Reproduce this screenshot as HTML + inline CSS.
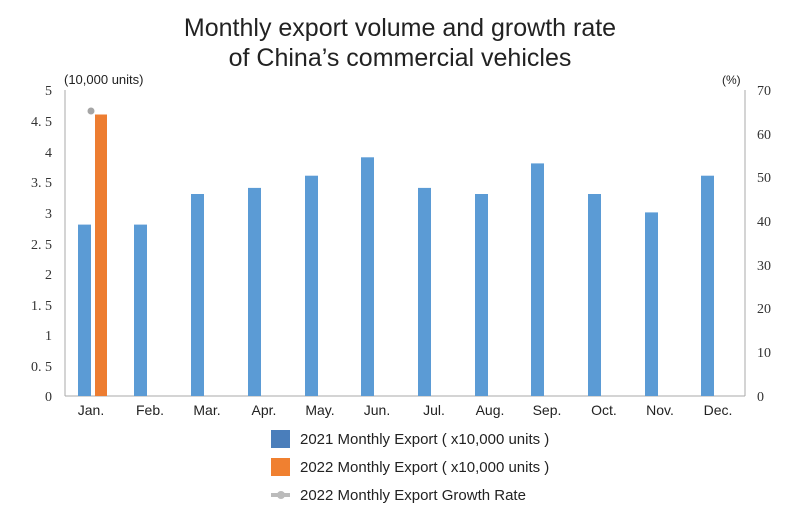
<!DOCTYPE html>
<html><head><meta charset="utf-8"><style>
body{margin:0;background:#fff;width:800px;height:519px;overflow:hidden}
svg{display:block}
.t{font-family:"Liberation Serif",serif;font-size:14px;fill:#333}
.s{font-family:"Liberation Sans",sans-serif;fill:#222}
</style></head><body>
<svg width="800" height="519" xmlns="http://www.w3.org/2000/svg">
<text x="400" y="36" text-anchor="middle" class="s" font-size="25">Monthly export volume and growth rate</text>
<text x="400" y="66" text-anchor="middle" class="s" font-size="25">of China’s commercial vehicles</text>
<text x="64" y="84" class="s" font-size="13">(10,000 units)</text>
<text x="722" y="84" class="s" font-size="12">(%)</text>
<line x1="65" y1="90" x2="65" y2="396" stroke="#aaa"/>
<line x1="745" y1="90" x2="745" y2="396" stroke="#aaa"/>
<line x1="65" y1="396" x2="745" y2="396" stroke="#aaa"/>
<g class="t" text-anchor="end">
<text x="52" y="95">5</text><text x="52" y="126">4. 5</text><text x="52" y="157">4</text><text x="52" y="187">3. 5</text><text x="52" y="218">3</text><text x="52" y="249">2. 5</text><text x="52" y="279">2</text><text x="52" y="310">1. 5</text><text x="52" y="340">1</text><text x="52" y="371">0. 5</text><text x="52" y="401">0</text>
</g>
<g class="t" text-anchor="start">
<text x="757" y="95">70</text><text x="757" y="139">60</text><text x="757" y="182">50</text><text x="757" y="226">40</text><text x="757" y="270">30</text><text x="757" y="313">20</text><text x="757" y="357">10</text><text x="757" y="401">0</text>
</g>
<g fill="#5b9bd5">
<rect x="78" y="224.6" width="13" height="171.4"/>
<rect x="134" y="224.6" width="13" height="171.4"/>
<rect x="191" y="194" width="13" height="202"/>
<rect x="248" y="187.9" width="13" height="208.1"/>
<rect x="305" y="175.7" width="13" height="220.3"/>
<rect x="361" y="157.3" width="13" height="238.7"/>
<rect x="418" y="187.9" width="13" height="208.1"/>
<rect x="475" y="194" width="13" height="202"/>
<rect x="531" y="163.4" width="13" height="232.6"/>
<rect x="588" y="194" width="13" height="202"/>
<rect x="645" y="212.4" width="13" height="183.6"/>
<rect x="701" y="175.7" width="13" height="220.3"/>
</g>
<rect x="95" y="114.5" width="12" height="281.5" fill="#ed7d31"/>
<circle cx="91" cy="111" r="3.5" fill="#a5a5a5"/>
<g class="s" font-size="14" text-anchor="middle">
<text x="91" y="415">Jan.</text><text x="150" y="415">Feb.</text><text x="207" y="415">Mar.</text><text x="264" y="415">Apr.</text><text x="320" y="415">May.</text><text x="377" y="415">Jun.</text><text x="434" y="415">Jul.</text><text x="490" y="415">Aug.</text><text x="547" y="415">Sep.</text><text x="604" y="415">Oct.</text><text x="660" y="415">Nov.</text><text x="718" y="415">Dec.</text>
</g>
<rect x="271" y="430" width="19" height="18" fill="#4a7ebb"/>
<rect x="271" y="458" width="19" height="18" fill="#f08030"/>
<line x1="271" y1="495" x2="290" y2="495" stroke="#bbb" stroke-width="4"/>
<circle cx="281" cy="495" r="4" fill="#bbb"/>
<g class="s" font-size="15">
<text x="300" y="444">2021 Monthly Export ( x10,000 units )</text>
<text x="300" y="472">2022 Monthly Export ( x10,000 units )</text>
<text x="300" y="500">2022 Monthly Export Growth Rate</text>
</g>
</svg>
</body></html>
